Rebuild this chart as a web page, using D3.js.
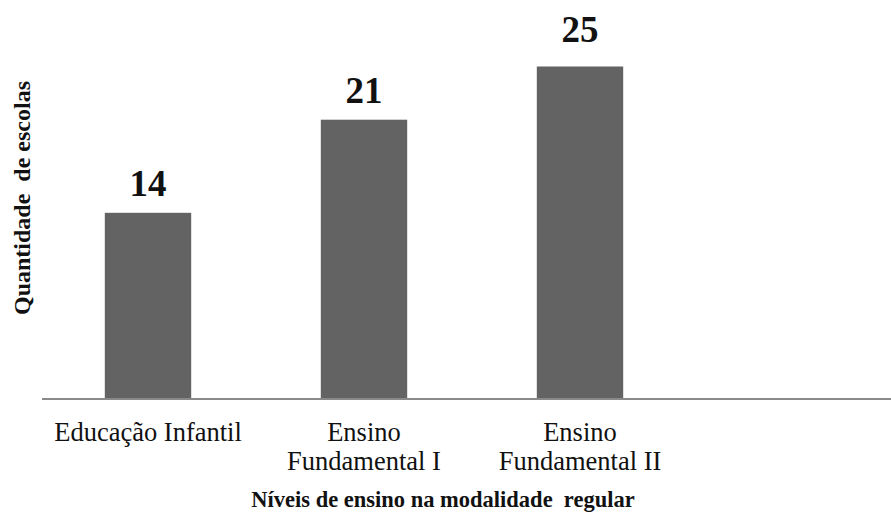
<!DOCTYPE html>
<html>
<head>
<meta charset="utf-8">
<script src="https://cdn.jsdelivr.net/npm/d3@7"></script>
<style>
  html, body { margin: 0; padding: 0; background: #fff; }
  svg { display: block; }
</style>
</head>
<body>
<svg id="chart" width="891" height="513" font-family="'Liberation Serif', 'DejaVu Serif', Tinos, Times, serif"></svg>
<script>
// Número de escolas por nível de ensino (modalidade regular)
const categories = [
  ["Educação Infantil"],
  ["Ensino", "Fundamental I"],
  ["Ensino", "Fundamental II"]
];
const categoryKeys = ["Educação Infantil", "Ensino Fundamental I", "Ensino Fundamental II"];
const values = [14, 21, 25];
const xTitle = "Níveis de ensino na modalidade  regular";
const yTitle = "Quantidade  de escolas";

// layout
const W = 891, H = 513;
const baseY = 399;
const labelGap = [17, 17, 25];

const svg = d3.select("#chart");

const x = d3.scaleBand()
  .domain(categoryKeys)
  .range([40, 688])
  .paddingInner(0.6)
  .paddingOuter(0.3);

const y = d3.scaleLinear()
  .domain([0, 30])
  .range([baseY, 0]);

// bars
svg.append("g")
  .selectAll("rect")
  .data(values)
  .join("rect")
  .attr("x", (d, i) => x(categoryKeys[i]))
  .attr("y", d => y(d))
  .attr("width", x.bandwidth())
  .attr("height", d => baseY - y(d))
  .attr("fill", "#636363");

// baseline axis
svg.append("line")
  .attr("x1", 42).attr("x2", W)
  .attr("y1", baseY).attr("y2", baseY)
  .attr("stroke", "#8a8a8a")
  .attr("stroke-width", 2);

// value labels
svg.append("g")
  .selectAll("text")
  .data(values)
  .join("text")
  .attr("x", (d, i) => x(categoryKeys[i]) + x.bandwidth() / 2)
  .attr("y", (d, i) => y(d) - labelGap[i])
  .attr("text-anchor", "middle")
  .attr("font-size", 37)
  .attr("font-weight", "bold")
  .attr("fill", "#111")
  .text(d => d);

// category labels
const cat = svg.append("g")
  .selectAll("text")
  .data(categories)
  .join("text")
  .attr("text-anchor", "middle")
  .attr("font-size", 26.5)
  .attr("fill", "#111")
  .attr("transform", (d, i) => `translate(${x(categoryKeys[i]) + x.bandwidth() / 2},441)`);
cat.selectAll("tspan")
  .data(d => d)
  .join("tspan")
  .attr("x", 0)
  .attr("y", (d, j) => j * 29)
  .text(d => d);

// axis titles
svg.append("text")
  .attr("x", 443)
  .attr("y", 507)
  .attr("text-anchor", "middle")
  .attr("font-size", 22.5)
  .attr("font-weight", "bold")
  .attr("fill", "#111")
  .style("white-space", "pre")
  .text(xTitle);

svg.append("text")
  .attr("transform", "translate(30,198) rotate(-90)")
  .attr("text-anchor", "middle")
  .attr("font-size", 24)
  .attr("font-weight", "bold")
  .attr("fill", "#111")
  .style("white-space", "pre")
  .text(yTitle);
</script>
</body>
</html>
